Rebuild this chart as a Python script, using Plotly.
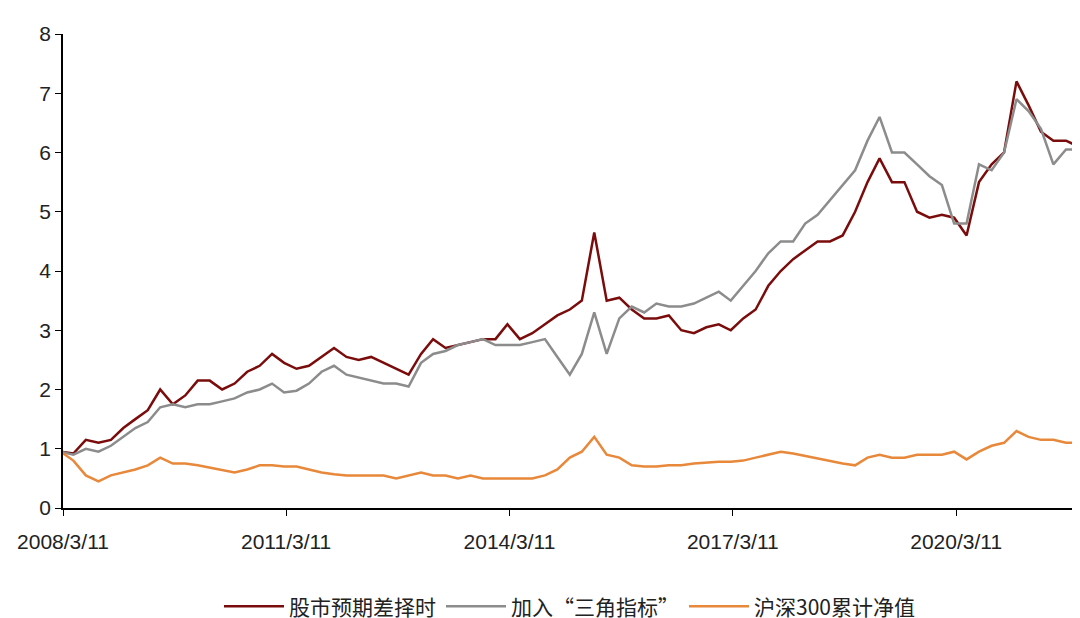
import pandas as pd
import plotly.graph_objects as go

dates = pd.date_range("2008-03-01", periods=83, freq="2MS")

timing = [0.95, 0.92, 1.15, 1.1, 1.15, 1.35, 1.5, 1.65, 2.0, 1.75, 1.9, 2.15, 2.15, 2.0, 2.1, 2.3, 2.4, 2.6, 2.45, 2.35,
          2.4, 2.55, 2.7, 2.55, 2.5, 2.55, 2.45, 2.35, 2.25, 2.6, 2.85, 2.7, 2.75, 2.8, 2.85, 2.85, 3.1, 2.85, 2.95, 3.1,
          3.25, 3.35, 3.5, 4.65, 3.5, 3.55, 3.35, 3.2, 3.2, 3.25, 3.0, 2.95, 3.05, 3.1, 3.0, 3.2, 3.35, 3.75, 4.0, 4.2,
          4.35, 4.5, 4.5, 4.6, 5.0, 5.5, 5.9, 5.5, 5.5, 5.0, 4.9, 4.95, 4.9, 4.6, 5.5, 5.8, 6.0, 7.2, 6.8, 6.35,
          6.2, 6.2, 6.1]
triangle = [0.95, 0.9, 1.0, 0.95, 1.05, 1.2, 1.35, 1.45, 1.7, 1.75, 1.7, 1.75, 1.75, 1.8, 1.85, 1.95, 2.0, 2.1, 1.95, 1.98,
            2.1, 2.3, 2.4, 2.25, 2.2, 2.15, 2.1, 2.1, 2.05, 2.45, 2.6, 2.65, 2.75, 2.8, 2.85, 2.75, 2.75, 2.75, 2.8, 2.85,
            2.55, 2.25, 2.6, 3.3, 2.6, 3.2, 3.4, 3.3, 3.45, 3.4, 3.4, 3.45, 3.55, 3.65, 3.5, 3.75, 4.0, 4.3, 4.5, 4.5,
            4.8, 4.95, 5.2, 5.45, 5.7, 6.2, 6.6, 6.0, 6.0, 5.8, 5.6, 5.45, 4.8, 4.8, 5.8, 5.7, 6.0, 6.9, 6.7, 6.4,
            5.8, 6.05, 6.05]
hs300 = [0.95, 0.8, 0.55, 0.45, 0.55, 0.6, 0.65, 0.72, 0.85, 0.75, 0.75, 0.72, 0.68, 0.63, 0.6, 0.65, 0.72, 0.72, 0.7, 0.7,
         0.65, 0.6, 0.57, 0.55, 0.55, 0.55, 0.55, 0.5, 0.55, 0.6, 0.55, 0.55, 0.5, 0.55, 0.5, 0.5, 0.5, 0.5, 0.5, 0.55,
         0.65, 0.85, 0.95, 1.2, 0.9, 0.85, 0.72, 0.7, 0.7, 0.72, 0.72, 0.75, 0.77, 0.78, 0.78, 0.8, 0.85, 0.9, 0.95, 0.92,
         0.88, 0.83, 0.8, 0.75, 0.72, 0.85, 0.9, 0.85, 0.85, 0.9, 0.9, 0.9, 0.95, 0.82, 0.95, 1.05, 1.1, 1.3, 1.2, 1.15,
         1.15, 1.1, 1.1]

tick_dates = ["2008-03-11", "2011-03-11", "2014-03-11", "2017-03-11", "2020-03-11"]
tick_text = ["2008/3/11", "2011/3/11", "2014/3/11", "2017/3/11", "2020/3/11"]

fig = go.Figure()
fig.add_trace(go.Scatter(x=dates, y=timing, mode="lines", name="股市预期差择时",
                         line=dict(color="#7B0C0C", width=2.5)))
fig.add_trace(go.Scatter(x=dates, y=triangle, mode="lines", name="加入“三角指标”",
                         line=dict(color="#8C8C8C", width=2.5)))
fig.add_trace(go.Scatter(x=dates, y=hs300, mode="lines", name="沪深300累计净值",
                         line=dict(color="#E8883A", width=2.5)))

fig.update_layout(
    width=1080, height=618,
    paper_bgcolor="white", plot_bgcolor="white",
    margin=dict(l=55, r=12, t=26, b=118, autoexpand=False),
    font=dict(family="Liberation Sans, Noto Sans CJK SC", size=21, color="#222"),
    legend=dict(orientation="h", x=0.5, xanchor="center", y=-0.165, yanchor="top",
                font=dict(family="Noto Sans CJK SC, Liberation Sans", size=21), itemwidth=60),
)
fig.update_xaxes(range=["2008-03-11", "2021-10-20"], tickvals=tick_dates, ticktext=tick_text,
                 showgrid=False, showline=True, linecolor="black", linewidth=1.5, automargin=False,
                 ticks="outside", ticklen=6, tickcolor="black", ticklabelstandoff=8)
fig.update_yaxes(range=[0, 8], dtick=1, showgrid=False, showline=True, linecolor="black", linewidth=1.5,
                 automargin=False, ticks="outside", ticklen=6, tickcolor="black", zeroline=False)

fig.write_html("out.html")
